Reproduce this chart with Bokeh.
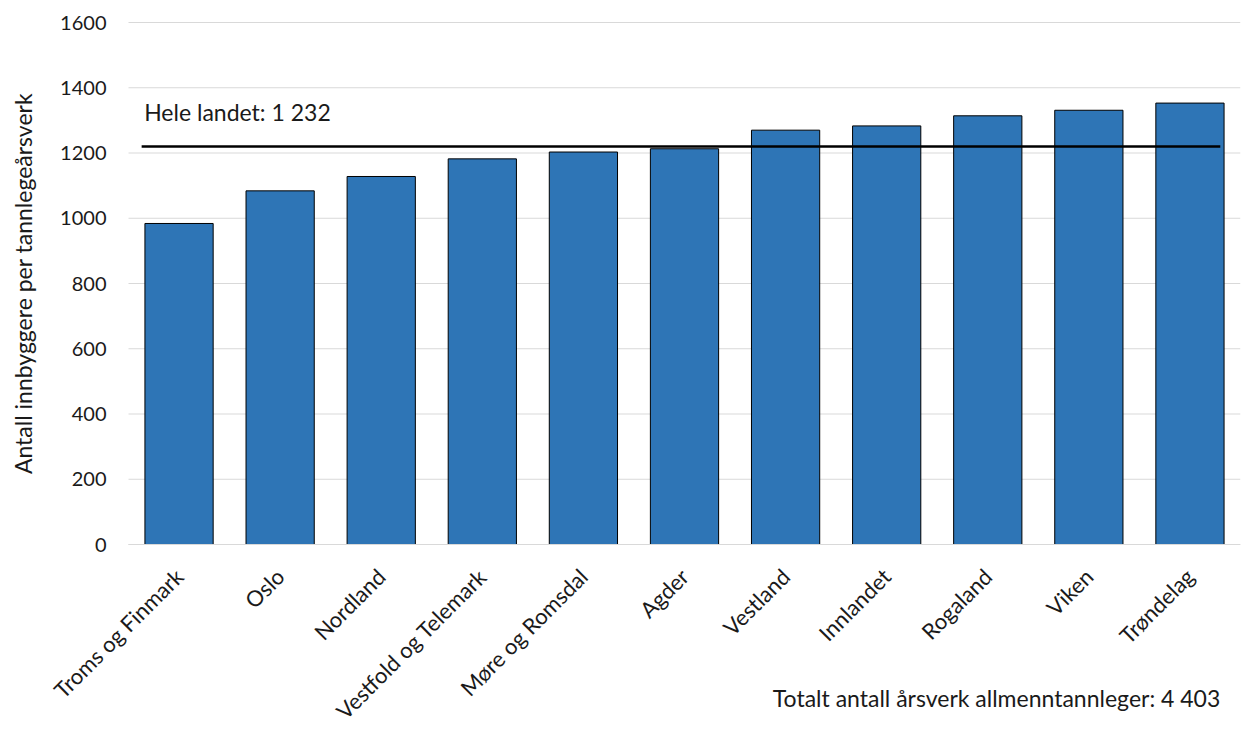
from math import pi
from bokeh.plotting import figure
from bokeh.models import Range1d, FixedTicker, Label, ColumnDataSource
from bokeh.embed import file_html
from bokeh.resources import INLINE

regions = ["Troms og Finmark", "Oslo", "Nordland", "Vestfold og Telemark", "Møre og Romsdal",
           "Agder", "Vestland", "Innlandet", "Rogaland", "Viken", "Trøndelag"]
values = [984, 1084, 1128, 1182, 1203, 1213, 1270, 1283, 1314, 1331, 1353]
national_value = 1220
national_label = "Hele landet: 1 232"
total_label = "Totalt antall årsverk allmenntannleger: 4 403"
y_ticks = [0, 200, 400, 600, 800, 1000, 1200, 1400, 1600]
y_title = "Antall innbyggere per tannlegeårsverk"

FONT = "Lato"
TXT = "#1a1a1a"

# layout: frame covers the whole canvas; value 0 at 544 px, 1600 at 22 px,
# first category slot starts at 128 px, last ends at 1240 px
N = len(regions)
PX_PER_UNIT = 522 / 1600
Y_START = -(731 - 544) / PX_PER_UNIT
Y_END = 1600 + 22 / PX_PER_UNIT
PX_PER_CAT = 1112 / N
X_START = -128 / PX_PER_CAT

xs = [i + 0.5 for i in range(N)]
src = ColumnDataSource(dict(x=xs, top=values, name=regions))

p = figure(width=1241, height=731, x_range=Range1d(X_START, N), y_range=Range1d(Y_START, Y_END),
           output_backend="svg", toolbar_location=None,
           min_border_left=0, min_border_right=1, min_border_top=0, min_border_bottom=0)
p.outline_line_color = None
p.background_fill_color = "white"

# horizontal gridlines at the tick values, spanning the category area only
p.segment(x0=[0] * len(y_ticks), x1=[N] * len(y_ticks), y0=y_ticks, y1=y_ticks,
          line_color="#d9d9d9", line_width=1, level="underlay")

p.vbar(x="x", top="top", width=0.675, bottom=0, source=src,
       fill_color="#2E75B6", line_color="black", line_width=1)

p.segment(x0=[0.13], x1=[10.8], y0=[national_value], y1=[national_value],
          line_color="black", line_width=2.5)

p.add_layout(Label(x=0.155, y=1325, text=national_label, text_font=FONT,
                   text_font_size="23px", text_color=TXT, text_baseline="alphabetic"))

p.add_layout(Label(x=10.8, y=-472, text=total_label,
                   text_font=FONT, text_font_size="23px", text_color=TXT,
                   text_align="right", text_baseline="alphabetic"))

p.add_layout(Label(x=(22 - 128) / PX_PER_CAT, y=800, text=y_title, angle=pi / 2,
                   text_font=FONT, text_font_size="23px", text_color=TXT,
                   text_align="center", text_baseline="middle"))

# y axis
p.yaxis.fixed_location = 0
p.yaxis.ticker = FixedTicker(ticks=y_ticks)
p.yaxis.axis_line_color = None
p.yaxis.major_tick_line_color = None
p.yaxis.minor_tick_line_color = None
p.yaxis.major_tick_out = 0
p.yaxis.major_tick_in = 0
p.yaxis.major_label_standoff = 22
p.yaxis.major_label_text_font = FONT
p.yaxis.major_label_text_font_size = "20px"
p.yaxis.major_label_text_color = TXT

# x axis
p.xaxis.fixed_location = 0
p.xaxis.bounds = (0, N)
p.xaxis.ticker = FixedTicker(ticks=xs)
p.xaxis.major_label_overrides = {x: r for x, r in zip(xs, regions)}
p.xaxis.axis_line_color = "#d9d9d9"
p.xaxis.major_tick_line_color = None
p.xaxis.minor_tick_line_color = None
p.xaxis.major_tick_out = 0
p.xaxis.major_tick_in = 0
p.xaxis.major_label_orientation = pi / 4
p.xaxis.major_label_standoff = 28
p.xaxis.major_label_text_font = FONT
p.xaxis.major_label_text_font_size = "22px"
p.xaxis.major_label_text_color = TXT

p.xgrid.visible = False
p.ygrid.visible = False

open("out.html", "w").write(file_html(p, INLINE))
